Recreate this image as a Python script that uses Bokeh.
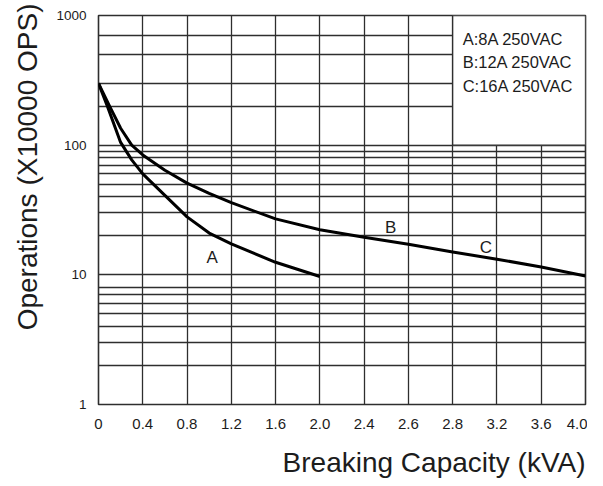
from bokeh.plotting import figure
from bokeh.models import FixedTicker, Label, Title
from bokeh.core.properties import value
from bokeh.embed import file_html
from bokeh.resources import INLINE

# ---- data ----
x_tick_labels = ["0", "0.4", "0.8", "1.2", "1.6", "2.0", "2.4", "2.6", "2.8", "3.2", "3.6", "4.0"]
y_tick_values = [1, 10, 100, 1000]
y_tick_labels = ["1", "10", "100", "1000"]
y_grid_values = [1, 2, 3, 4, 5, 6, 7, 8, 10, 20, 30, 40, 50, 60, 70, 80, 90, 100,
                 200, 300, 500, 700, 1000]

# curve A (8A 250VAC); x in tick-position units of the chart
curve_a_x = [0, 0.2, 0.5, 0.75, 1.0, 1.5, 2.0, 2.5, 3.0, 4.0, 5.0]
curve_a_y = [300, 200, 105, 77, 60, 41, 28, 21, 17.3, 12.5, 9.7]

# curve B / C (12A, 16A 250VAC)
curve_bc_x = [0, 0.25, 0.5, 0.75, 1.0, 1.5, 2.0, 2.5, 3.0, 4.0, 5.0, 6.0, 7.0, 8.0, 9.0, 10.0, 11.0]
curve_bc_y = [300, 200, 135, 100, 84, 64, 51, 42.5, 36, 27, 22.3, 19.5, 17.2, 15.0, 13.2, 11.5, 9.8]

curve_labels = ["A", "B", "C"]
curve_label_x = [2.57, 6.6, 8.75]
curve_label_y = [13.7, 23, 16.3]

legend_lines = ["A:8A 250VAC", "B:12A 250VAC", "C:16A 250VAC"]
x_title = "Breaking Capacity (kVA)"
y_title = "Operations (X10000 OPS)"

FONT = "Liberation Sans"
INK = "#1c1c1c"
GRID = "#2e2e2e"

x_pos = list(range(len(x_tick_labels)))

p = figure(frame_width=487, frame_height=389, y_axis_type="log",
           x_range=(x_pos[0], x_pos[-1]), y_range=(y_tick_values[0], y_tick_values[-1]),
           output_backend="svg", toolbar_location=None,
           min_border_left=98, min_border_right=2, min_border_top=15, min_border_bottom=74)
p.background_fill_color = "white"
p.border_fill_color = "white"
p.outline_line_color = GRID
p.outline_line_width = 1.6

p.xaxis.ticker = FixedTicker(ticks=x_pos)
p.xaxis.major_label_overrides = {i: lab for i, lab in zip(x_pos, x_tick_labels)}
p.xgrid.ticker = FixedTicker(ticks=x_pos)
p.yaxis.ticker = FixedTicker(ticks=y_tick_values)
p.yaxis.major_label_overrides = dict(zip(y_tick_values, y_tick_labels))
p.ygrid.ticker = FixedTicker(ticks=y_grid_values)

for ax in (p.xaxis, p.yaxis):
    ax.axis_line_color = None
    ax.major_tick_line_color = None
    ax.minor_tick_line_color = None
    ax.major_label_text_font = FONT
    ax.major_label_text_color = INK
p.xaxis.major_label_text_font_size = "15px"
p.xaxis.major_label_standoff = 8
p.yaxis.major_label_text_font_size = "13.5px"
p.yaxis.major_label_standoff = 6

p.grid.grid_line_color = GRID
p.grid.grid_line_width = 1.3
p.grid.grid_line_alpha = 1.0

# legend box (white area in the upper right)
box_left = x_pos[x_tick_labels.index("2.8")]
p.quad(left=[box_left], right=[x_pos[-1]], bottom=[y_tick_values[2]], top=[y_tick_values[3]],
       fill_color="white", line_color=GRID, line_width=1.3)
for i, t in enumerate(legend_lines):
    p.add_layout(Label(x=box_left, y=y_tick_values[3], x_offset=10, y_offset=-(23.5 + 23.4 * i),
                       text=t, text_font=FONT, text_font_size="16.5px", text_color=INK,
                       text_baseline="middle"))

p.line(curve_a_x, curve_a_y, line_width=3, line_color="black", line_join="round")
p.line(curve_bc_x, curve_bc_y, line_width=3, line_color="black", line_join="round")

p.text(x=curve_label_x, y=curve_label_y, text=curve_labels, text_align="center",
       text_baseline="middle", text_font=value(FONT), text_font_size="17px", text_color=INK)

# axis titles
xt = Title(text=x_title, align="right", text_font=FONT, text_font_size="28px",
           text_font_style="normal", text_color=INK, standoff=27)
p.add_layout(xt, "below")
yt = Title(text=y_title, align="right", vertical_align="middle", text_font=FONT,
           text_font_size="28px", text_font_style="normal", text_color=INK,
           standoff=20, offset=-12)
p.add_layout(yt, "left")

open("out.html", "w").write(file_html(p, INLINE))
